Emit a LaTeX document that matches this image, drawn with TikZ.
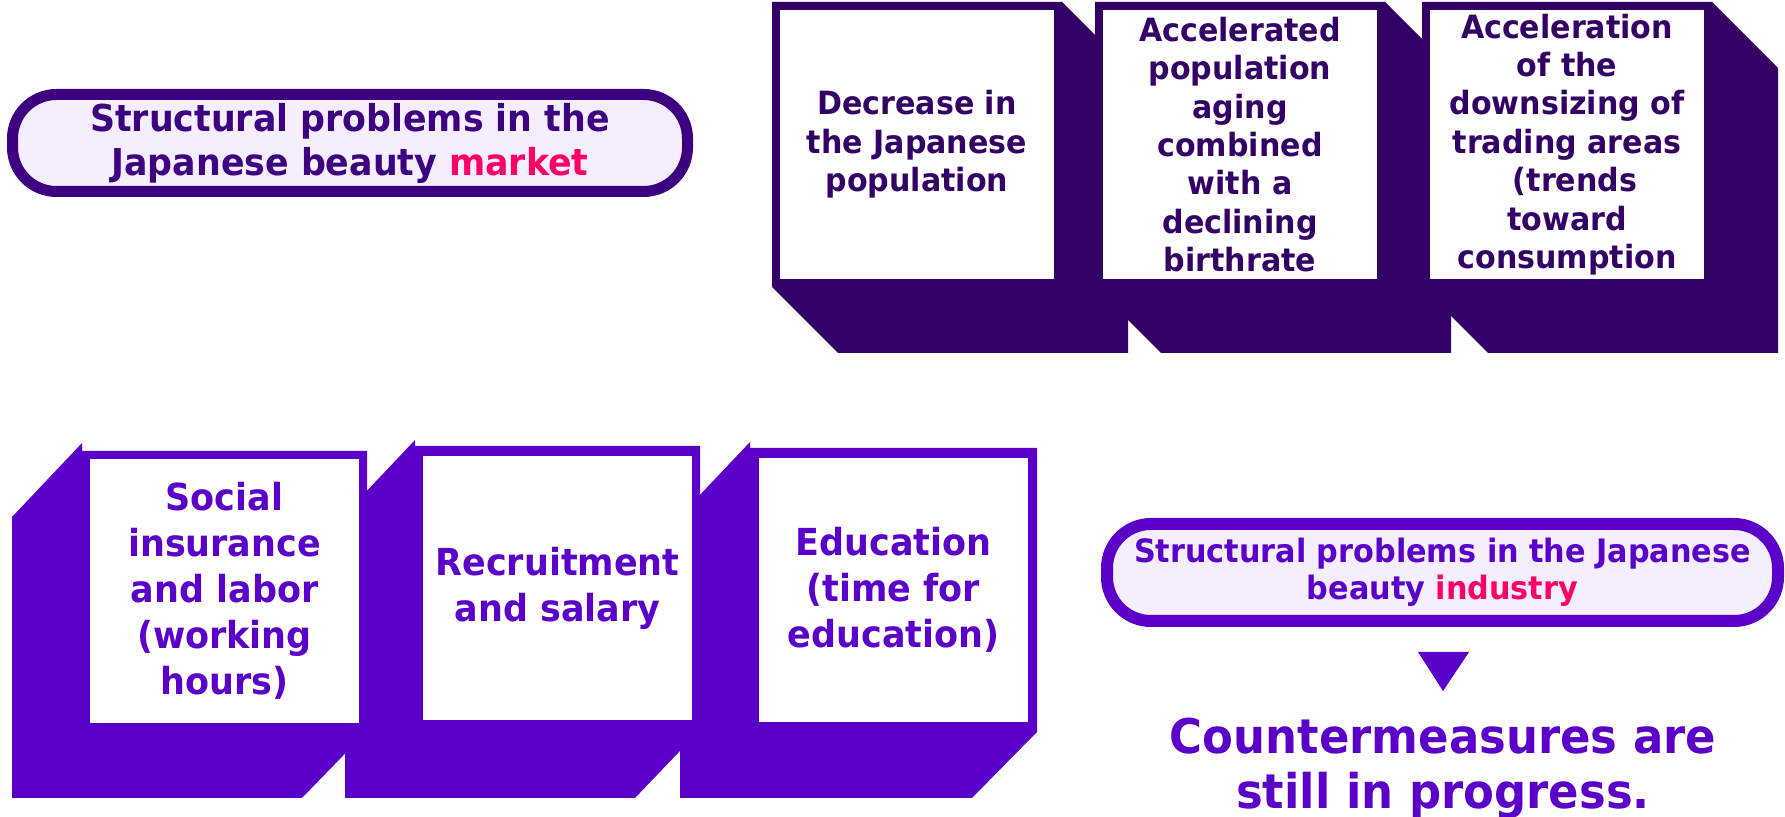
\documentclass[tikz,border=0pt]{standalone}
\usepackage{fontspec}
\setmainfont{DejaVu Sans}[FakeStretch=0.94]
\usetikzlibrary{positioning}

\definecolor{topdark}{RGB}{51,0,102}
\definecolor{pilldark}{RGB}{60,0,128}
\definecolor{botpurple}{RGB}{91,0,200}
\definecolor{pillfill}{RGB}{244,238,254}
\definecolor{hotpink}{RGB}{255,0,102}

\tikzset{
	pill/.style={rectangle, rounded corners=22pt, fill=pillfill, align=center, inner sep=0pt, minimum height=48.5pt},
	topface/.style={draw=topdark, fill=white, line width=4pt, minimum width=141pt, minimum height=138.5pt, inner sep=0pt, align=center, text=topdark, font=\fontsize{16}{19.2}\selectfont\bfseries},
	botface/.style={draw=botpurple, fill=white, line width=4pt, minimum width=138.5pt, minimum height=136pt, inner sep=0pt, align=center, text=botpurple, font=\fontsize{18.6}{23}\selectfont\bfseries}
}

\begin{document}
\begin{tikzpicture}[x=0.5pt, y=-0.5pt]
	\useasboundingbox (0, 0) rectangle (1785, 817);

	\node [pill, draw=pilldark, line width=5.5pt, minimum width=337.5pt, text=pilldark, font=\fontsize{18.5}{22}\selectfont\bfseries] (market) at (350, 143) {Structural problems in the\\Japanese beauty \textcolor{hotpink}{market}};

	% top row, boxes pushed back to the lower right
	\fill [topdark] (772, 2) -- (1062, 2) -- (1128, 68) -- (1128, 353) -- (838, 353) -- (772, 287) -- cycle;
	\node [topface] (decrease) at (917, 144.5) {Decrease in\\the Japanese\\population};
	\fill [topdark] (1095, 2) -- (1385, 2) -- (1451, 68) -- (1451, 353) -- (1161, 353) -- (1095, 287) -- cycle;
	\node [topface] (aging) at (1240, 144.5) {Accelerated\\population\\aging\\combined\\with a\\declining\\birthrate};
	\fill [topdark] (1422, 2) -- (1712, 2) -- (1778, 68) -- (1778, 353) -- (1488, 353) -- (1422, 287) -- cycle;
	\node [topface] (downsizing) at (1567, 144.5) {Acceleration\\of the\\downsizing of\\trading areas\\\hspace*{0.5em}(trends\\toward\\consumption};

	% bottom row, boxes pushed back to the lower left
	\fill [botpurple] (750, 442) -- (680, 516) -- (680, 798) -- (972, 798) -- (1037, 732) -- (1037, 448) -- (750, 448) -- cycle;
	\node [botface] (education) at (893.5, 590) {Education\\(time for\\education)};
	\fill [botpurple] (415, 440) -- (345, 514) -- (345, 798) -- (635, 798) -- (700, 730) -- (700, 446) -- (415, 446) -- cycle;
	\node [botface] (recruit) at (557.5, 588) {Recruitment\\and salary};
	\fill [botpurple] (82, 443) -- (12, 517) -- (12, 798) -- (302, 798) -- (367, 731) -- (367, 451) -- (82, 451) -- cycle;
	\node [botface] (social) at (224.5, 591) {Social\\insurance\\and labor\\(working\\hours)};

	\node [pill, draw=botpurple, line width=6pt, minimum width=335.5pt, text=botpurple, font=\fontsize{16.1}{18.7}\selectfont\bfseries] (industry) at (1442.5, 572.5) {Structural problems in the Japanese\\beauty \textcolor{hotpink}{industry}};

	\fill [botpurple] (1418, 652) -- (1469, 652) -- (1443, 691) -- cycle;

	\node [text=botpurple, font=\fontsize{23.9}{27.5}\selectfont\bfseries, align=center] (counter) at (1443, 768) {Countermeasures are\\still in progress.};
\end{tikzpicture}
\end{document}
